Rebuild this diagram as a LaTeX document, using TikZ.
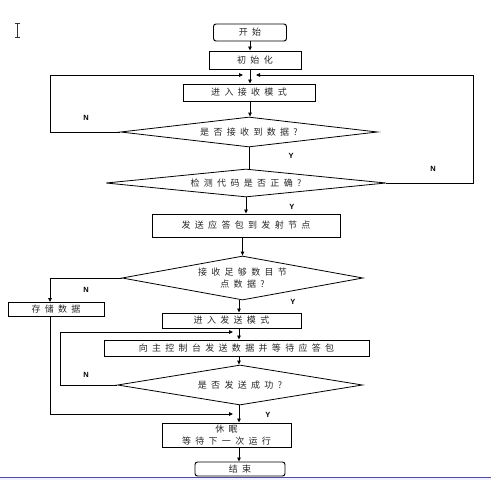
\documentclass[tikz,border=0pt]{standalone}
\usepackage{fontspec}
\newfontfamily\cjk[LetterSpace=48]{Noto Sans CJK SC}
\newfontfamily\lat{Liberation Sans}
\usetikzlibrary{shapes.geometric,arrows.meta}
\tikzset{
  every node/.style={font=\cjk\fontsize{9}{11.5}\selectfont, text=black!85},
  proc/.style={draw, line width=0.95pt, rectangle, inner sep=0pt, align=center},
  term/.style={draw, line width=0.95pt, rectangle, rounded corners=2.5pt, inner sep=0pt},
  dec/.style={draw, line width=0.8pt, diamond, inner sep=0pt, align=center},
  arr/.style={line width=0.85pt, -{Triangle[length=4pt,width=3.5pt]}},
  ln/.style={line width=0.85pt},
  yn/.style={font=\lat\bfseries\fontsize{7.5}{9}\selectfont, text=black}
}
\begin{document}
\begin{tikzpicture}[x=1pt,y=-1pt]
\useasboundingbox (0,0) rectangle (491,480);
% screenshot band and cursor
\fill[blue!6] (0,477) rectangle (491,480);
\draw[line width=0.8pt, blue!45!black!70] (0,477) -- (491,477);
\draw[line width=0.5pt, black!80] (17,23) -- (17,37) (14.5,23) -- (19.5,23) (14.5,37) -- (19.5,37);

\node[term, minimum width=73pt, minimum height=17pt] (start) at (250,32.5) {开始};
\node[proc, minimum width=92pt, minimum height=18pt] (init) at (255,60) {初始化};
\coordinate (m) at (250,75);
\coordinate (mL) at (243,75);
\coordinate (mR) at (256,75);
\node[proc, minimum width=132pt, minimum height=17pt] (recv) at (249,92.5) {进入接收模式};
\node[dec, minimum width=257pt, minimum height=30pt, aspect=8.5] (d1) at (249,132) {是否接收到数据?};
\node[dec, minimum width=280pt, minimum height=28pt, aspect=10] (d2) at (246,183) {检测代码是否正确?};
\node[proc, minimum width=188pt, minimum height=23pt] (ack) at (246,225.5) {发送应答包到发射节点};
\node[dec, minimum width=241pt, minimum height=44pt, aspect=5.5] (d3) at (242.5,278) {接收足够数目节\\点数据?};
\node[proc, minimum width=96pt, minimum height=14pt] (store) at (56,309.5) {存储数据};
\node[proc, minimum width=139pt, minimum height=15pt] (smode) at (231.5,320.5) {进入发送模式};
\node[proc, minimum width=265pt, minimum height=16pt] (sbox) at (236.5,348) {向主控制台发送数据并等待应答包};
\node[dec, minimum width=245pt, minimum height=40pt, aspect=6.1] (d4) at (240,385) {是否发送成功?};
\node[proc, minimum width=129pt, minimum height=24pt] (sleep) at (226.5,435) {休眠\\等待下一次运行};
\node[term, minimum width=90pt, minimum height=14pt] (end) at (240,469) {结束};

\coordinate (ax) at (239,0);
\coordinate (in1) at (233,332);
\coordinate (in2) at (233,414);

% main flow
\draw[arr] (start.south) -- (start.south |- init.north);
\draw[arr] (m |- init.south) -- (m |- recv.north);
\draw[arr] (m |- recv.south) -- (m |- d1.north);
\draw[ln] (d1.south) -- (d1.south |- d2.north);
\draw[arr] (d2.south) -- (d2.south |- ack.north);
\draw[arr] (ack.south -| d3.north) -- (d3.north);
\draw[arr] (ax |- d3.south) -- (ax |- smode.north);
\draw[arr] (ax |- smode.south) -- (ax |- sbox.north);
\draw[arr] (ax |- sbox.south) -- (ax |- d4.north);
\draw[arr] (ax |- d4.south) -- (ax |- sleep.north);
\draw[arr] (ax |- sleep.south) -- (ax |- end.north);

% loops
\draw[arr] (d1.west) -- (50,132) |- (mL);
\draw[arr] (d2.east) -- (473,183) |- (mR);
\draw[arr] (d3.west) -- (50,278) -- ([xshift=-6pt]store.north);
\draw[arr] ([xshift=-6pt]store.south) |- (in2);
\draw[arr] (d4.west) -- (60,385) |- (in1);

% labels
\node[yn] (n1) at (86,118) {N};
\node[yn] (y1) at (291,156) {Y};
\node[yn] (n2) at (433,169) {N};
\node[yn] (y2) at (292,207) {Y};
\node[yn] (n3) at (86,290) {N};
\node[yn] (y3) at (293,302) {Y};
\node[yn] (n4) at (86,375) {N};
\node[yn] (y4) at (268,415) {Y};
\end{tikzpicture}
\end{document}
